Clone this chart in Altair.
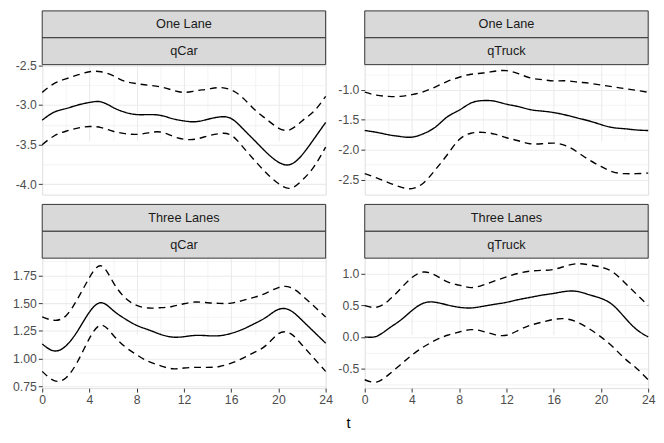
import altair as alt
import pandas as pd

T = list(range(25))

# One Lane / qCar
est1 = [-3.19, -3.09, -3.045, -3.0, -2.967, -2.96, -3.03, -3.09, -3.12, -3.12, -3.13, -3.17, -3.20, -3.21, -3.18, -3.15, -3.17, -3.30, -3.45, -3.60, -3.72, -3.75, -3.63, -3.43, -3.22]
up1 = [-2.84, -2.73, -2.67, -2.62, -2.58, -2.58, -2.63, -2.70, -2.73, -2.75, -2.77, -2.81, -2.84, -2.82, -2.80, -2.78, -2.81, -2.91, -3.06, -3.18, -3.29, -3.31, -3.20, -3.08, -2.89]
lo1 = [-3.50, -3.39, -3.33, -3.29, -3.27, -3.285, -3.33, -3.36, -3.37, -3.35, -3.34, -3.39, -3.43, -3.43, -3.39, -3.36, -3.38, -3.53, -3.70, -3.86, -3.99, -4.05, -3.95, -3.78, -3.53]

# One Lane / qTruck
est2 = [-1.68, -1.71, -1.75, -1.78, -1.79, -1.73, -1.62, -1.45, -1.34, -1.22, -1.18, -1.19, -1.24, -1.28, -1.33, -1.355, -1.38, -1.42, -1.47, -1.52, -1.58, -1.63, -1.65, -1.67, -1.68]
up2 = [-1.04, -1.09, -1.11, -1.11, -1.08, -1.03, -0.95, -0.86, -0.79, -0.74, -0.72, -0.69, -0.68, -0.73, -0.80, -0.83, -0.85, -0.85, -0.87, -0.89, -0.92, -0.95, -0.98, -1.01, -1.04]
lo2 = [-2.40, -2.47, -2.55, -2.62, -2.65, -2.55, -2.33, -2.08, -1.83, -1.725, -1.71, -1.74, -1.80, -1.85, -1.90, -1.90, -1.89, -1.93, -2.04, -2.17, -2.28, -2.37, -2.40, -2.40, -2.39]

# Three Lanes / qCar
est3 = [1.133, 1.07, 1.115, 1.25, 1.42, 1.504, 1.435, 1.36, 1.30, 1.26, 1.22, 1.195, 1.198, 1.21, 1.207, 1.207, 1.228, 1.266, 1.317, 1.376, 1.444, 1.435, 1.346, 1.243, 1.14]
up3 = [1.376, 1.346, 1.385, 1.54, 1.73, 1.836, 1.69, 1.55, 1.48, 1.456, 1.459, 1.47, 1.495, 1.51, 1.504, 1.498, 1.50, 1.525, 1.554, 1.593, 1.640, 1.643, 1.57, 1.474, 1.376]
lo3 = [0.886, 0.803, 0.827, 0.975, 1.183, 1.302, 1.213, 1.109, 1.035, 0.975, 0.937, 0.91, 0.916, 0.922, 0.922, 0.93, 0.96, 1.005, 1.059, 1.124, 1.225, 1.228, 1.124, 1.005, 0.886]

# Three Lanes / qTruck
est4 = [0.0, 0.01, 0.13, 0.26, 0.417, 0.536, 0.547, 0.505, 0.469, 0.458, 0.484, 0.516, 0.547, 0.589, 0.625, 0.66, 0.688, 0.719, 0.719, 0.667, 0.61, 0.505, 0.31, 0.12, 0.0]
up4 = [0.495, 0.469, 0.573, 0.755, 0.94, 1.026, 0.974, 0.87, 0.818, 0.78, 0.818, 0.885, 0.948, 1.005, 1.04, 1.052, 1.068, 1.12, 1.156, 1.14, 1.104, 1.026, 0.86, 0.677, 0.495]
lo4 = [-0.677, -0.714, -0.6, -0.443, -0.286, -0.156, -0.052, 0.026, 0.078, 0.115, 0.089, 0.036, 0.026, 0.104, 0.182, 0.234, 0.276, 0.286, 0.234, 0.13, 0.0, -0.156, -0.339, -0.495, -0.677]

LANES = ["One Lane", "One Lane", "Three Lanes", "Three Lanes"]
VARS = ["qCar", "qTruck", "qCar", "qTruck"]
DOMAINS = [[-4.13, -2.49], [-2.75, -0.58], [0.735, 1.905], [-0.81, 1.245]]
MAJORS = [[-4.0, -3.5, -3.0, -2.5], [-2.5, -2.0, -1.5, -1.0], [0.75, 1.0, 1.25, 1.5, 1.75], [-0.5, 0.0, 0.5, 1.0]]
MINORS = [[-3.75, -3.25, -2.75], [-2.25, -1.75, -1.25, -0.75], [0.875, 1.125, 1.375, 1.625, 1.875], [-0.75, -0.25, 0.25, 0.75]]
FORMATS = [".1f", ".1f", ".2f", ".1f"]
SERIES = [(est1, lo1, up1), (est2, lo2, up2), (est3, lo3, up3), (est4, lo4, up4)]
X_MAJOR = [0, 4, 8, 12, 16, 20, 24]
X_ALL = list(range(0, 25, 2))

W = 290
H = 133      # plot area
SH = 55      # two strips
FONT = "Liberation Sans"
AXFONT = 12.5


def panel(i, bottom):
    est, lo, up = SERIES[i]
    rows = []
    for kind, vals, dash in [("est", est, "solid"), ("lower", lo, "dashed"), ("upper", up, "dashed")]:
        for t, v in zip(T, vals):
            rows.append({"t": t, "value": v, "kind": kind, "dash": dash})
    df = pd.DataFrame(rows)
    xtest = "indexof(%s, datum.value) >= 0" % str(X_MAJOR)
    xaxis = alt.Axis(
        values=X_ALL, title=None, labels=bottom, ticks=bottom,
        labelExpr="%s ? datum.label : ''" % xtest,
        labelFlush=False, labelOverlap=False,
        labelFont=FONT, labelFontSize=AXFONT, labelColor="#4D4D4D", labelPadding=2,
        tickSize=4, tickWidth=1, domain=False, gridColor="#EBEBEB",
        tickColor={"condition": {"test": xtest, "value": "#333333"}, "value": "rgba(0,0,0,0)"},
        gridWidth={"condition": {"test": xtest, "value": 1.1}, "value": 0.55},
    )
    yvals = sorted(MAJORS[i] + MINORS[i])
    ytest = "indexof(%s, datum.value) >= 0" % str(MAJORS[i])
    yaxis = alt.Axis(
        values=yvals, title=None, format=FORMATS[i],
        labelExpr="%s ? replace(datum.label, '\u2212', '-') : ''" % ytest,
        labelOverlap=False, labelFlush=False,
        labelFont=FONT, labelFontSize=AXFONT, labelColor="#4D4D4D", labelPadding=2,
        tickSize=4, tickWidth=1, domain=False, gridColor="#EBEBEB",
        tickColor={"condition": {"test": ytest, "value": "#333333"}, "value": "rgba(0,0,0,0)"},
        gridWidth={"condition": {"test": ytest, "value": 1.1}, "value": 0.55},
    )
    lines = alt.Chart(df).mark_line(color="black", strokeWidth=1.4, interpolate="natural").encode(
        x=alt.X("t:Q", scale=alt.Scale(domain=[0, 24], nice=False, zero=False), axis=xaxis),
        y=alt.Y("value:Q", scale=alt.Scale(domain=DOMAINS[i], nice=False, zero=False, range=[H + SH, SH]), axis=yaxis),
        detail="kind:N",
        strokeDash=alt.StrokeDash("dash:N", scale=alt.Scale(domain=["solid", "dashed"], range=[[1, 0], [7, 5]]), legend=None),
    )
    top, sub = LANES[i], VARS[i]
    sdf = pd.DataFrame({"lab": [top, sub]})
    sbase = alt.Chart(sdf).encode(
        y=alt.Y("lab:N", sort=[top, sub], axis=None,
                scale=alt.Scale(paddingInner=0, paddingOuter=0, range=[0, SH]))
    )
    rect = sbase.mark_rect(fill="#D9D9D9", stroke="#333333", strokeWidth=1)
    txt = sbase.mark_text(fontSize=13, color="#1A1A1A", font=FONT).encode(text="lab:N")
    return alt.layer(lines, rect, txt).resolve_scale(y="independent").resolve_axis(y="independent").properties(
        width=W, height=H + SH)


chart = alt.concat(
    panel(0, False), panel(1, False), panel(2, True), panel(3, True),
    columns=2, spacing={"row": 8, "column": 3},
).properties(
    title=alt.TitleParams("t", orient="bottom", anchor="middle", fontSize=15, fontWeight="normal",
                          color="black", font=FONT, offset=10, dx=15),
    padding={"left": 4, "right": 0, "top": -3, "bottom": 0},
).configure_view(
    stroke="#333333", strokeWidth=1, fill="white"
).configure(background="white")

chart.save("out.html", embed_options={"renderer": "svg", "actions": False})
